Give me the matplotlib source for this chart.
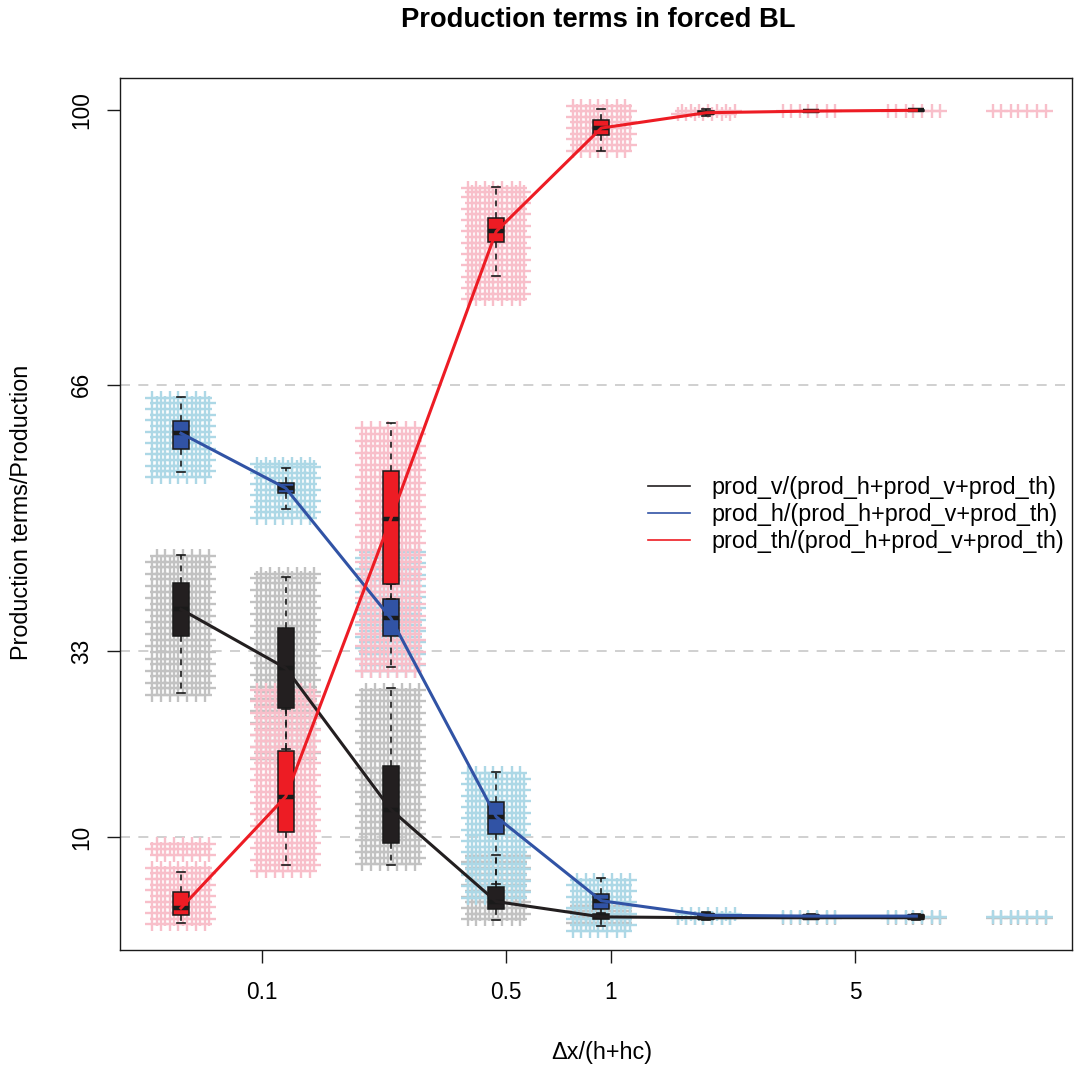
import matplotlib
matplotlib.use("Agg")
import matplotlib.pyplot as plt
from matplotlib.lines import Line2D
from matplotlib.ticker import NullLocator, FixedLocator

plt.rcParams['font.family'] = ['Liberation Sans', 'DejaVu Sans']

# ---------------- data ----------------
x_pos = [0.0586, 0.117, 0.234, 0.469, 0.938, 1.875, 3.75, 7.5, 15.0]

# y-values of the jittered point clouds (one list per x position)
v_cloud = [
    [27.6, 28.4, 29.1, 29.9, 30.6, 31.4, 32.1, 32.9, 33.6, 34.4, 35.1, 35.9, 36.6, 37.4, 38.1, 38.9,
     39.6, 40.4, 41.1, 41.9, 42.6, 43.4, 44.1, 44.8],
    [19.6, 20.4, 21.1, 21.9, 22.6, 23.4, 24.1, 24.9, 25.6, 26.4, 27.1, 27.9, 28.6, 29.4, 30.1, 30.9,
     31.6, 32.4, 33.1, 33.9, 34.6, 35.4, 36.1, 36.9, 37.6, 38.4, 39.1, 39.9, 40.6, 41.4, 42.1, 42.6],
    [6.6, 7.4, 8.1, 8.9, 9.6, 10.4, 11.1, 11.9, 12.6, 13.4, 14.1, 14.9, 15.6, 16.4, 17.1, 17.9, 18.6,
     19.4, 20.1, 20.9, 21.6, 22.4, 23.1, 23.9, 24.6, 25.4, 26.1, 26.9, 27.6, 28.2],
    [-0.2, 0.5, 1.2, 1.9, 2.6, 3.3, 4.0, 4.7, 5.4, 6.1, 6.9, 7.6],
    [-0.6, 0.1, 0.8, 1.4],
    [0.0], [0.0], [0.0], [0.0],
]
h_cloud = [
    [54.6, 55.3, 56.0, 56.7, 57.4, 58.1, 58.8, 59.5, 60.2, 60.9, 61.6, 62.3, 63.0, 63.7, 64.4],
    [49.5, 50.2, 50.9, 51.6, 52.3, 53.0, 53.7, 54.4, 55.1, 55.8, 56.2],
    [30.6, 31.3, 32.0, 32.7, 33.4, 34.1, 34.8, 35.5, 36.2, 36.9, 37.6, 38.3, 39.0, 39.7, 40.4, 41.1,
     41.8, 42.5, 43.2, 43.9, 44.6, 45.3],
    [2.5, 3.2, 3.9, 4.6, 5.3, 6.0, 6.7, 7.4, 8.1, 8.8, 9.5, 10.2, 10.9, 11.6, 12.3, 13.0, 13.7, 14.4,
     15.1, 15.8, 16.5, 17.2, 17.9],
    [-1.6, -0.9, -0.2, 0.5, 1.2, 1.9, 2.6, 3.3, 4.0, 4.7],
    [0.0, 0.5], [0.1], [0.1], [0.1],
]
th_cloud = [
    [-0.8, -0.1, 0.6, 1.3, 2.0, 2.7, 3.4, 4.1, 4.8, 5.5, 6.1, 7.8, 8.5, 9.1],
    [5.8, 6.5, 7.2, 7.9, 8.6, 9.3, 10.0, 10.7, 11.4, 12.1, 12.8, 13.5, 14.2, 14.9, 15.6, 16.3, 17.0,
     17.7, 18.4, 19.1, 19.8, 20.5, 21.2, 21.9, 22.6, 23.3, 24.0, 24.7, 25.4, 26.1, 26.8, 27.5, 28.2],
    [30.6, 31.4, 32.1, 32.9, 33.6, 34.4, 35.1, 35.9, 36.6, 37.4, 38.1, 38.9, 39.6, 40.4, 41.1, 41.9,
     42.6, 43.4, 44.1, 44.9, 45.6, 46.4, 47.1, 47.9, 48.6, 49.4, 50.1, 50.9, 51.6, 52.4, 53.1, 53.9,
     54.6, 55.4, 56.1, 56.9, 57.6, 58.4, 59.1, 59.9, 60.6],
    [76.6, 77.3, 78.0, 78.7, 79.4, 80.1, 80.8, 81.5, 82.2, 82.9, 83.6, 84.3, 85.0, 85.7, 86.4, 87.1,
     87.8, 88.5, 89.2, 89.9, 90.4],
    [95.0, 95.7, 96.4, 97.1, 97.8, 98.5, 99.2, 99.9, 100.5],
    [99.5, 99.9], [99.95], [99.95], [99.95],
]

# box statistics: (whislo, q1, median, q3, whishi)
v_box = [(27.8, 34.9, 38.2, 41.45, 44.9), (20.9, 26.0, 30.9, 35.9, 42.2), (6.5, 9.25, 13.4, 18.8, 28.4),
         (-0.3, 1.1, 2.0, 3.8, 7.8), (-1.0, -0.1, 0.1, 0.4, 0.6), (-0.3, -0.2, 0.0, 0.5, 0.6),
         (-0.2, -0.1, 0.0, 0.1, 0.2), (-0.3, -0.2, 0.0, 0.2, 0.3)]
h_box = [(55.2, 58.0, 60.0, 61.5, 64.5), (50.6, 52.6, 53.2, 53.8, 55.7), (31.1, 34.9, 37.1, 39.5, 41.3),
         (4.2, 10.4, 12.5, 14.3, 18.0), (0.5, 1.1, 2.1, 2.9, 4.9), (0.0, 0.2, 0.3, 0.5, 0.7),
         (0.0, 0.1, 0.2, 0.3, 0.4), (0.0, 0.1, 0.2, 0.3, 0.4)]
th_box = [(-0.6, 0.35, 1.2, 3.2, 5.6), (6.5, 10.6, 15.0, 20.6, 25.8), (39.5, 41.3, 49.4, 55.3, 61.3),
          (79.5, 83.7, 85.0, 86.6, 90.5), (95.0, 96.9, 97.8, 98.8, 100.2), (99.3, 99.6, 99.7, 99.9, 100.1),
          (99.8, 99.85, 99.9, 99.95, 100.0), (99.9, 99.95, 100.0, 100.0, 100.05)]

series_labels = ["prod_v/(prod_h+prod_v+prod_th)",
                 "prod_h/(prod_h+prod_v+prod_th)",
                 "prod_th/(prod_h+prod_v+prod_th)"]
y_ticks = [10, 33, 66, 100]
x_ticks = [0.1, 0.5, 1, 5]
x_ticklabels = ["0.1", "0.5", "1", "5"]
ref_lines = [10, 33, 66]

# ---------------- style ----------------
# horizontal jitter (in decades), alternating between two sets row by row
jitter_sets = [[-0.082, -0.058, -0.031, -0.009, 0.017, 0.044, 0.069],
               [-0.070, -0.045, -0.020, 0.006, 0.031, 0.056, 0.081]]
cloud_colors = ['#C2C2C2', '#ADD8E6', '#F8BFCA']
box_colors = ['#231F20', '#3153A5', '#ED1C24']
ink = '#1A1A1A'
FS = 16.8
FS_TICK = 16.3

W, H = 1076, 1065
fig = plt.figure(figsize=(W / 100, H / 100), dpi=100)
ax = fig.add_axes([120 / W, 1 - 950 / H, (1072 - 120) / W, (950 - 78) / H])
ax.set_xscale('log')
ax.set_xlim(0.0392, 20.94)
ax.set_ylim(-4, 104)

for y in ref_lines:
    ax.axhline(y, color='#C8C8C8', lw=1.2, ls=(0, (6, 5)), zorder=0)

# point clouds
for cloud, col in zip([v_cloud, h_cloud, th_cloud], cloud_colors):
    for xc, rows in zip(x_pos, cloud):
        xs, ys = [], []
        for r, y in enumerate(rows):
            for d in jitter_sets[r % 2]:
                xs.append(xc * 10 ** d)
                ys.append(y)
        ax.plot(xs, ys, linestyle='none', marker='+', ms=10.5, mew=1.7, color=col, zorder=1)

# boxes
npos = len(v_box)
widths = [xc * 0.1056 for xc in x_pos[:npos]]
capw = [w * 0.5 for w in widths]
for boxes, col in zip([v_box, h_box, th_box], box_colors):
    stats = [dict(whislo=b[0], q1=b[1], med=b[2], q3=b[3], whishi=b[4], fliers=[]) for b in boxes]
    ax.bxp(stats, positions=x_pos[:npos], widths=widths, capwidths=capw, patch_artist=True,
           showfliers=False, manage_ticks=False,
           boxprops=dict(facecolor=col, edgecolor=ink, linewidth=1.1),
           medianprops=dict(color=ink, linewidth=3.2, solid_capstyle='butt'),
           whiskerprops=dict(color=ink, linewidth=1.2, linestyle=(0, (3.5, 3.5))),
           capprops=dict(color=ink, linewidth=1.2))

# median lines
for boxes, col in zip([v_box, h_box, th_box], box_colors):
    ax.plot(x_pos[:npos], [b[2] for b in boxes], color=col, lw=2.2, zorder=4)

# axes
ax.xaxis.set_major_locator(FixedLocator(x_ticks))
ax.xaxis.set_minor_locator(NullLocator())
ax.set_xticklabels(x_ticklabels)
ax.set_yticks(y_ticks)
ax.set_yticklabels([str(t) for t in y_ticks], rotation=90, va='center', ha='right')
ax.tick_params(axis='x', direction='out', length=9.5, width=1.0, labelsize=FS_TICK, pad=13, color=ink)
ax.tick_params(axis='y', direction='out', length=9.5, width=1.0, labelsize=FS_TICK, pad=10, color=ink)
for s in ax.spines.values():
    s.set_linewidth(1.0)
    s.set_color(ink)

fig.text(598 / W, 1 - 20 / H, "Production terms in forced BL", ha='center', va='center',
         fontsize=19.7, fontweight='bold')
fig.text(602 / W, 1 - 1052 / H, "Δx/(h+hc)", ha='center', va='center', fontsize=FS)
fig.text(22 / W, 1 - 512 / H, "Production terms/Production", ha='center', va='center',
         rotation=90, fontsize=FS)

handles = [Line2D([], [], color=c, lw=1.2) for c in box_colors]
ax.legend(handles, series_labels, loc='upper left', bbox_to_anchor=(648 / W, 1 - 476 / H),
          bbox_transform=fig.transFigure, frameon=False, borderpad=0, borderaxespad=0,
          handlelength=1.8, handletextpad=0.92, labelspacing=0.18, fontsize=FS)

fig.savefig("out.png", dpi=100)
